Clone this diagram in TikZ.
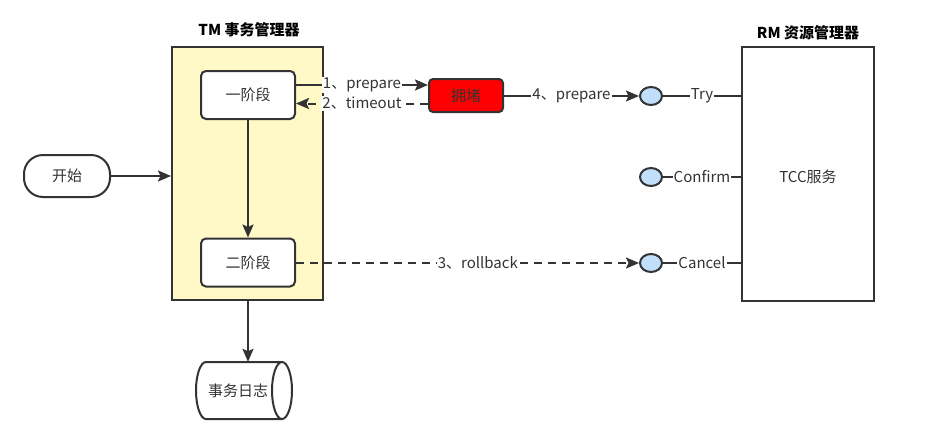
\documentclass[tikz,border=0pt]{standalone}
\usepackage{fontspec}
\setmainfont{Noto Sans CJK SC}
\usetikzlibrary{arrows.meta,calc,shapes.geometric}
\definecolor{ink}{HTML}{333333}
\definecolor{tmfill}{HTML}{FFF9C8}
\definecolor{blob}{HTML}{BFDFFB}
\tikzset{
  txt/.style={font=\fontsize{15}{17}\selectfont,text=ink},
  box/.style={txt,draw=ink,line width=2pt,rounded corners=5pt,fill=white,minimum width=94pt,minimum height=48pt,inner sep=0pt},
  conn/.style={draw=ink,line width=2pt,-{Stealth[length=13pt,width=11pt,inset=2.5pt]}},
  plain/.style={draw=ink,line width=2pt},
  lbl/.style={txt,fill=white,inner sep=1pt},
  dsh/.style={dash pattern=on 8pt off 6pt},
  port/.style={draw=ink,line width=2pt,fill=blob,ellipse,minimum width=22pt,minimum height=18pt,inner sep=0pt},
  title/.style={font=\bfseries\fontsize{15}{17}\selectfont,text=black}
}
\begin{document}
\begin{tikzpicture}[x=1pt,y=-1pt]
\useasboundingbox (0,0) rectangle (927,437);
% TM
\node[title] (tmt) at (249,30) {TM 事务管理器};
\node[draw=ink,line width=2pt,fill=tmfill,minimum width=151pt,minimum height=253pt,inner sep=0pt] (tm) at (247.5,173.5) {};
\node[box] (p1) at (248,95) {一阶段};
\node[box] (p2) at (248,262.5) {二阶段};
\draw[conn] (p1) -- (p2);
% start
\node[txt,draw=ink,line width=2pt,rounded corners=19pt,fill=white,minimum width=86pt,minimum height=42pt,inner sep=0pt] (st) at (67,176) {开始};
\draw[conn] (st) -- (tm.west |- st);
% log cylinder
\node[minimum width=96pt,minimum height=57pt,inner sep=0pt] (log) at (244,390.5) {};
\draw[plain,fill=white] (282,362) -- (206,362) arc[start angle=-90,end angle=-270,x radius=10,y radius=28.5] -- (282,419);
\draw[plain,fill=white] (282,390.5) ellipse[x radius=10,y radius=28.5];
\node[txt] at (238,391) {事务日志};
\draw[conn] (tm.south -| p2) -- (log.north -| p2);
% congestion
\node[txt,draw=ink,line width=2pt,rounded corners=4pt,fill=red,minimum width=74pt,minimum height=33pt,inner sep=0pt] (cg) at (466,95.5) {拥堵};
\coordinate (a1) at ($(p1.east)+(0,-10)$);
\coordinate (a2) at (cg.west |- a1);
\coordinate (b1) at ($(cg.west)+(0,8)$);
\coordinate (b2) at (p1.east |- b1);
\draw[conn] (a1) -- node[lbl] {1、prepare} (a2);
\draw[conn,dsh] (b1) -- node[lbl] {2、timeout} (b2);
% RM
\node[title] (rmt) at (808,33) {RM 资源管理器};
\node[draw=ink,line width=2pt,fill=white,minimum width=132pt,minimum height=254pt,inner sep=0pt] (rm) at (808,174) {};
\node[txt] (tcc) at (808,177) {TCC服务};
\node[port] (try) at (651,96) {};
\node[port] (cfm) at (651,177) {};
\node[port] (ccl) at (651,263) {};
\draw[plain] (try) -- node[lbl] {Try} (rm.west |- try);
\draw[plain] (cfm) -- node[lbl] {Confirm} (rm.west |- cfm);
\draw[plain] (ccl) -- node[lbl] {Cancel} (rm.west |- ccl);
\draw[conn] (cg.east |- try) -- node[lbl] {4、prepare} (try);
\draw[conn,dsh] (p2.east |- ccl) -- node[lbl,pos=0.53] {3、rollback} (ccl);
\end{tikzpicture}
\end{document}
